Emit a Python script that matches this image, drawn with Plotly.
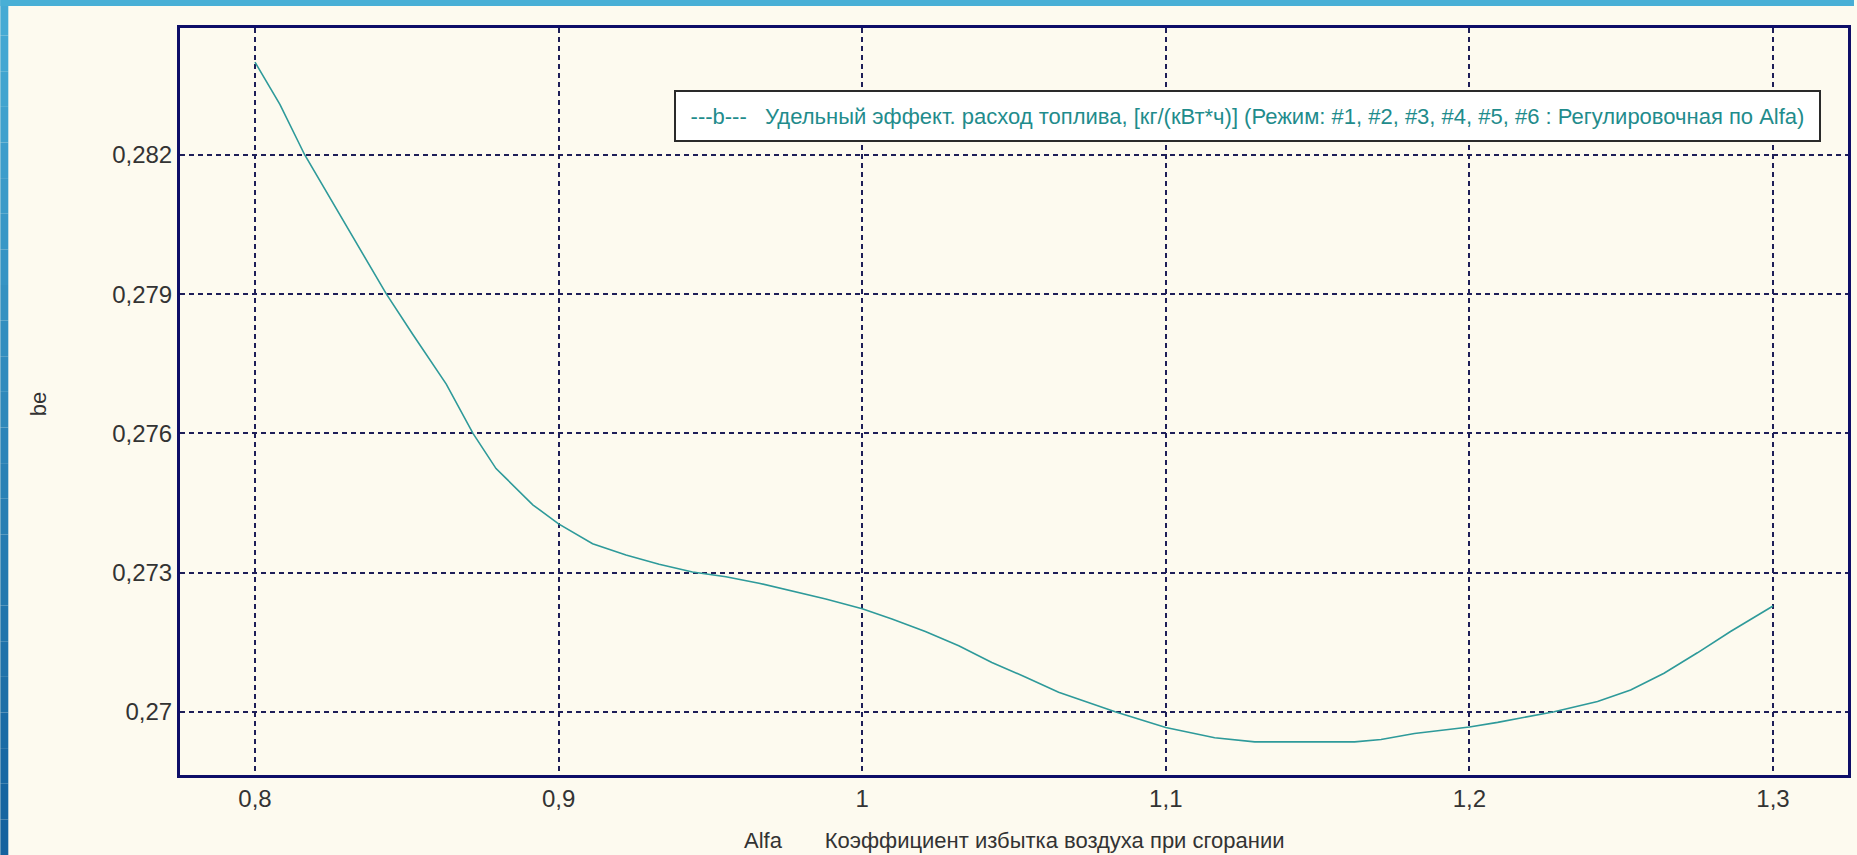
import plotly.graph_objects as go

# ---- data ----
alfa = [0.8, 0.8082, 0.8164, 0.8247, 0.8329, 0.8433, 0.8520, 0.8630, 0.8718, 0.8794,
        0.8827, 0.8871, 0.8915, 0.9, 0.9112, 0.9222, 0.9331, 0.9441, 0.9551, 0.9660,
        0.9770, 0.9880, 1.0, 1.0098, 1.0208, 1.0318, 1.0427, 1.0537, 1.0647, 1.0833,
        1.1, 1.1161, 1.1293, 1.1457, 1.1622, 1.1709, 1.1819, 1.2, 1.2093, 1.2279,
        1.2422, 1.2531, 1.2641, 1.2751, 1.2860, 1.3]
be = [0.28400, 0.28309, 0.28200, 0.28107, 0.28014, 0.27900, 0.27813, 0.27706, 0.27600, 0.27524,
      0.27503, 0.27474, 0.27446, 0.27405, 0.27362, 0.27338, 0.27318, 0.27301, 0.27291, 0.27277,
      0.27260, 0.27243, 0.27222, 0.27200, 0.27173, 0.27142, 0.27106, 0.27075, 0.27042, 0.27000,
      0.26966, 0.26944, 0.26935, 0.26935, 0.26935, 0.26940, 0.26953, 0.26967, 0.26977, 0.27000,
      0.27022, 0.27047, 0.27083, 0.27127, 0.27173, 0.27228]

x_tickvals = [0.8, 0.9, 1.0, 1.1, 1.2, 1.3]
x_ticktext = ["0,8", "0,9", "1", "1,1", "1,2", "1,3"]
y_tickvals = [0.270, 0.273, 0.276, 0.279, 0.282]
y_ticktext = ["0,27", "0,273", "0,276", "0,279", "0,282"]

legend_text = ("---b---   Удельный эффект. расход топлива, [кг/(кВт*ч)] "
               "(Режим: #1, #2, #3, #4, #5, #6 : Регулировочная по Alfa)")
x_title = "Alfa&nbsp;&nbsp;&nbsp;&nbsp;&nbsp;&nbsp;&nbsp;Коэффициент избытка воздуха при сгорании"
y_title = "be"

# ---- page geometry ----
W, H = 1857, 855
L, R, T, B = 180, 1851, 28, 775
pw, ph = R - L, B - T

def px(xp):
    return (xp - L) / pw

def py(yp):
    return (B - yp) / ph

LINE = "#2E9A9A"
FRAME = "#0E0E68"
GRID = "#1E1E58"
BG = "#FDFAEF"
FONT = "Liberation Sans, Arial, sans-serif"

fig = go.Figure()
fig.add_trace(go.Scatter(x=alfa, y=be, mode="lines",
                         line=dict(color=LINE, width=1.6), showlegend=False,
                         hoverinfo="x+y"))

# blue window frame (top + left bands)
shapes = []
n = 24
c0 = (0x45, 0xAA, 0xD4)
c1 = (0x14, 0x62, 0x9E)
for i in range(n):
    t = i / (n - 1)
    c = tuple(int(round(c0[k] + (c1[k] - c0[k]) * t)) for k in range(3))
    y0 = H * i / n
    y1 = H * (i + 1) / n
    shapes.append(dict(type="rect", xref="paper", yref="paper",
                       x0=px(0), x1=px(8), y0=py(y1), y1=py(y0),
                       fillcolor="rgb(%d,%d,%d)" % c, line=dict(width=0), layer="above"))
shapes.append(dict(type="rect", xref="paper", yref="paper",
                   x0=px(0), x1=px(W), y0=py(6), y1=py(0),
                   fillcolor="#48AFD6", line=dict(width=0), layer="above"))

annotations = [
    dict(text=legend_text, xref="paper", yref="paper",
         x=px(1249.5), y=py(116), xanchor="center", yanchor="middle",
         showarrow=False, font=dict(family=FONT, size=22, color="#1F8C8C"),
         bgcolor="#FFFFFF", bordercolor="#2A2A2A", borderwidth=2, borderpad=0,
         width=1143, height=48, align="center"),
    dict(text=x_title, xref="paper", yref="paper",
         x=0.5, y=py(840), xanchor="center", yanchor="middle",
         showarrow=False, font=dict(family=FONT, size=22, color="#333333")),
    dict(text=y_title, xref="paper", yref="paper",
         x=px(38), y=py(404), xanchor="center", yanchor="middle",
         showarrow=False, textangle=-90,
         font=dict(family=FONT, size=22, color="#333333")),
]

axis_common = dict(showline=True, mirror=True, linecolor=FRAME, linewidth=3,
                   showgrid=True, gridcolor=GRID, gridwidth=1.5, griddash="5px,4px",
                   zeroline=False, ticks="",
                   tickfont=dict(family=FONT, size=24, color="#333333"))

fig.update_layout(
    width=W, height=H, autosize=False,
    margin=dict(l=L, r=W - R, t=T, b=H - B, pad=0),
    paper_bgcolor=BG, plot_bgcolor=BG,
    separators=",.",
    xaxis=dict(range=[0.7753, 1.3247], tickmode="array",
               tickvals=x_tickvals, ticktext=x_ticktext, **axis_common),
    yaxis=dict(range=[0.268636, 0.284737], tickmode="array",
               tickvals=y_tickvals, ticktext=y_ticktext, **axis_common),
    shapes=shapes, annotations=annotations,
)

fig.write_html("out.html", config={"displayModeBar": False},
               post_script="document.body.style.margin='0px';document.body.style.overflow='hidden';")
